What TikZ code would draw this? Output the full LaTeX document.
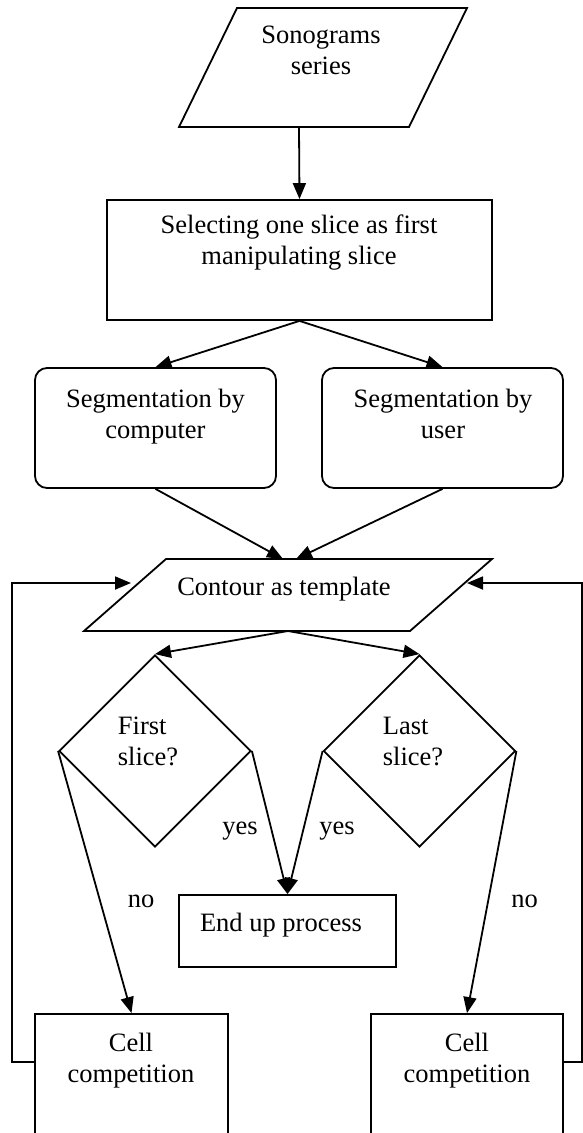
\documentclass[tikz,border=0pt]{standalone}
\usepackage{fontspec}
\setmainfont{Liberation Serif}
\usetikzlibrary{shapes.geometric,arrows.meta}
\begin{document}
\begin{tikzpicture}[x=1pt,y=-1pt,
  line width=1.8pt, line join=miter,
  box/.style={draw, rectangle, inner sep=0pt},
  rbox/.style={box, rounded corners=12pt},
  dia/.style={draw, diamond, inner sep=0pt, minimum width=192pt, minimum height=192pt},
  txt/.style={inner sep=0pt, font=\fontsize{26.5}{31}\selectfont, align=center, anchor=base},
  ltxt/.style={txt, align=left, anchor=base west},
  arr/.style={-{Triangle[length=16pt,width=13pt]}}
]
\useasboundingbox (0,0) rectangle (583,1133);
\clip (0,0) rectangle (583,1133);

% shapes
\draw (237,8) -- (467,8) -- (409,127) -- (179,127) -- cycle;
\coordinate (son) at (299,127);
\node[box, minimum width=385pt, minimum height=120pt] (sel) at (299.5,260) {};
\node[rbox, minimum width=241pt, minimum height=120pt] (segc) at (155.5,428) {};
\node[rbox, minimum width=241pt, minimum height=120pt] (segu) at (442.5,428) {};
\draw (166,559) -- (492,559) -- (410,631) -- (84,631) -- cycle;
\coordinate (cin1) at (283,559);
\coordinate (cin2) at (296,559);
\coordinate (cout) at (288,631);
\coordinate (cl) at (131,583);
\coordinate (cr) at (467,583);
\coordinate (cornerL) at (12,583);
\coordinate (cornerR) at (582,583);
\node[dia] (first) at (155,751) {};
\node[dia] (last) at (419.5,751) {};
\node[box, minimum width=217pt, minimum height=72pt] (end) at (287.5,931) {};
\node[box, minimum width=193pt, minimum height=140pt] (cellL) at (131.5,1084) {};
\node[box, minimum width=192pt, minimum height=140pt] (cellR) at (467,1084) {};

% connectors
\draw[arr] (son) -- (sel.north);
\draw[arr] (sel.south) -- (segc.north);
\draw[arr] (sel.south) -- (segu.north);
\draw[arr] (segc.south) -- (cin1);
\draw[arr] (segu.south) -- (cin2);
\draw[arr] (cout) -- (first.north);
\draw[arr] (cout) -- (last.north);
\draw[arr] (first.east) -- (end.north);
\draw[arr] (last.west) -- (end.north);
\draw[arr] (first.west) -- (cellL.north);
\draw[arr] (last.east) -- (cellR.north);
\draw[arr] ([yshift=22pt]cellL.west) -| (cornerL) -- (cl);
\draw[arr] ([yshift=22pt]cellR.east) -| (cornerR) -- (cr);

% texts (base anchor = baseline of the last line)
\node[txt] (t-son) at (321,74) {Sonograms\\series};
\node[txt] (t-sel) at (299,264) {Selecting one slice as first\\manipulating slice};
\node[txt] (t-segc) at (155.5,438) {Segmentation by\\computer};
\node[txt] (t-segu) at (443,438) {Segmentation by\\user};
\node[txt] (t-con) at (284,595) {Contour as template};
\node[ltxt] (t-first) at (117,765) {First\\slice?};
\node[ltxt] (t-last) at (382,765) {Last\\slice?};
\node[txt] (yes1) at (240,834) {yes};
\node[txt] (yes2) at (337,834) {yes};
\node[txt] (no1) at (141,907) {no};
\node[txt] (no2) at (524.5,907) {no};
\node[txt] (t-end) at (281,931) {End up process};
\node[txt] (t-cl) at (131,1082) {Cell\\competition};
\node[txt] (t-cr) at (467,1082) {Cell\\competition};
\end{tikzpicture}
\end{document}
